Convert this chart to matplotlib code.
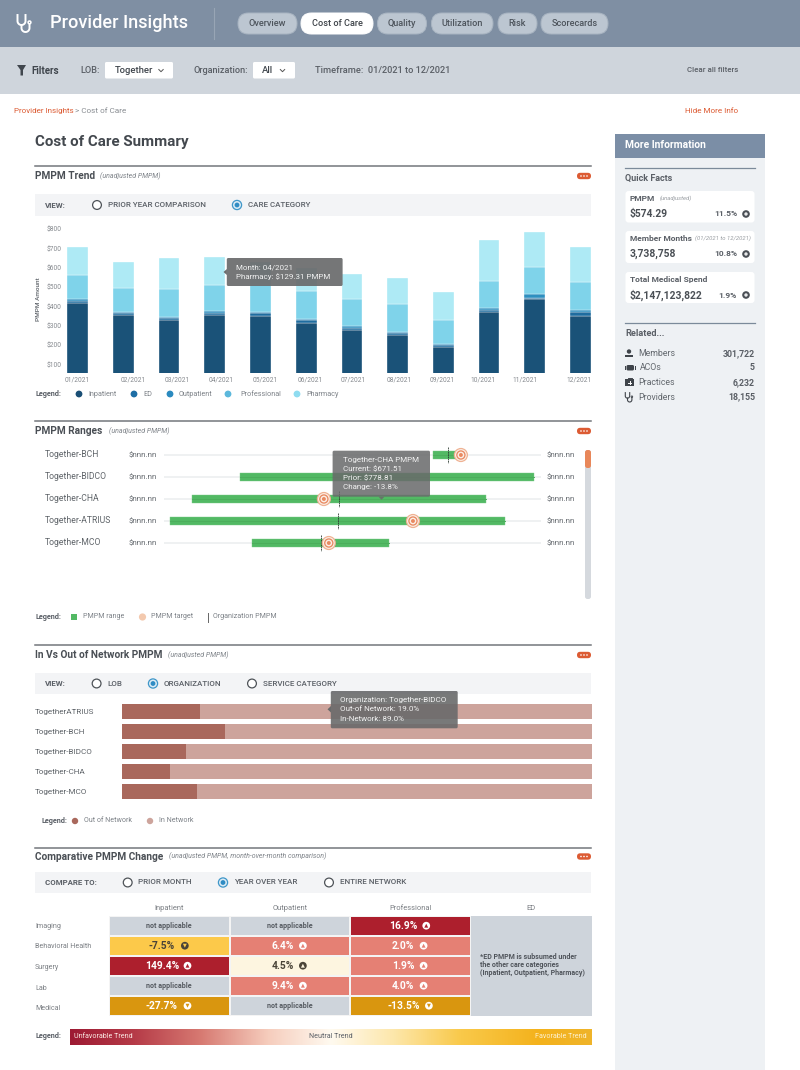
import numpy as np
import matplotlib.pyplot as plt
from matplotlib.patches import Circle, FancyBboxPatch, Rectangle, Polygon
from matplotlib.colors import LinearSegmentedColormap, ListedColormap

plt.rcParams['font.family'] = ['Roboto', 'DejaVu Sans']

W, H = 800, 1070
GRAY = '#5a5f66'
LIGHT = '#7d8288'
ORANGE = '#dc5b33'


def px_axes(x0, y0, x1, y1, z=1):
    # axes placed with picture pixels, y from the top
    ax = fig.add_axes([x0 / W, 1 - y1 / H, (x1 - x0) / W, (y1 - y0) / H], zorder=z)
    ax.patch.set_alpha(0)
    for s in ax.spines.values():
        s.set_visible(False)
    return ax


def txt(ax, x, y, s, size=6.5, color=GRAY, weight='normal', ha='left', style='normal', **kw):
    ax.text(x, y, s, fontsize=size, color=color, fontweight=weight, ha=ha, va='center', fontstyle=style, **kw)


def rbox(ax, x0, y0, x1, y1, r, color, ec='none', lw=0, alpha=1, z=2):
    ax.add_patch(FancyBboxPatch((x0 + r, y0 + r), x1 - x0 - 2 * r, y1 - y0 - 2 * r,
                                boxstyle=f'round,pad={r},rounding_size={r}', fc=color, ec=ec, lw=lw, alpha=alpha, zorder=z))


def radio(ax, x, y, selected=False):
    if selected:
        ax.add_patch(Circle((x, y), 4.6, fc='#dcebf5', ec='#3f97c9', lw=0.9, zorder=3))
        ax.add_patch(Circle((x, y), 2.4, fc='#2f8cc4', ec='none', zorder=4))
    else:
        ax.add_patch(Circle((x, y), 4.4, fc='white', ec='#4e5358', lw=0.9, zorder=3))


def section(ax, y, title, note, note_x, top_offset=10):
    ax.plot([35, 591], [y, y], color='#73777c', lw=1.1, zorder=2)
    txt(ax, 35, y + top_offset, title, size=7.25, weight='bold', color='#4a4f55')
    txt(ax, note_x, y + top_offset, note, size=5.05, style='italic', color=LIGHT)
    rbox(ax, 577, y + top_offset - 3.2, 591, y + top_offset + 3.2, 3.2, ORANGE)
    for dx in [-3, 0, 3]:
        ax.add_patch(Circle((584 + dx, y + top_offset), 0.8, fc='white', ec='none', zorder=3))


def view_bar(ax, y0, y1, label, options):
    ax.add_patch(Rectangle((35, y0), 556, y1 - y0, fc='#f3f4f6', ec='none', zorder=1))
    ym = (y0 + y1) / 2
    txt(ax, 45, ym, label, size=5.7, weight='bold')
    for rx, tx, name, sel in options:
        radio(ax, rx, ym, sel)
        txt(ax, tx, ym, name, size=5.8, weight='medium')


def tooltip(ax, x0, y0, x1, y1, lines, ys, tx, alpha=0.92):
    rbox(ax, x0, y0, x1, y1, 1.5, '#696a6b', alpha=alpha)
    for s, yy in zip(lines, ys):
        txt(ax, tx, yy, s, size=5.8, color='#f2f2f2', zorder=4)


def stethoscope(ax, x, y, k, color, lw):
    # arms and the U under them
    t = np.linspace(np.pi, 0, 30)
    ux = x + k * 4 * np.cos(t)
    uy = y - k * 1 + k * 4 * np.sin(t)
    ax.plot(np.r_[x - k * 4, ux, x + k * 4], np.r_[y - k * 7, uy, y - k * 7], color=color, lw=lw, zorder=4)
    # tube going round to the chest piece
    jx = x + k * 4 + k * 4 * np.cos(t)
    jy = y + k * 6 + k * 4 * np.sin(t)
    ax.plot(np.r_[x, jx, x + k * 8], np.r_[y + k * 3, jy, y + k * 2], color=color, lw=lw, zorder=4)
    ax.add_patch(Circle((x + k * 8, y + k * 0.4), k * 1.4, fc='none', ec=color, lw=lw * 0.8, zorder=4))


fig = plt.figure(figsize=(8, 10.7), dpi=100, facecolor='white')

ui = fig.add_axes([0, 0, 1, 1], zorder=0)
ui.set_xlim(0, W)
ui.set_ylim(H, 0)
ui.axis('off')

top = fig.add_axes([0, 0, 1, 1], zorder=5)
top.set_xlim(0, W)
top.set_ylim(H, 0)
top.axis('off')
top.patch.set_alpha(0)

# header
ui.add_patch(Rectangle((0, 0), W, 47, fc='#7f8fa3', ec='none'))
ui.add_patch(Rectangle((0, 47), W, 46.5, fc='#cfd5dc', ec='none'))
stethoscope(ui, 21.5, 22, 1.0, 'white', 1.4)
txt(ui, 49.5, 23.5, 'Provider Insights', size=13.1, color='white', weight='medium')
ui.plot([214, 214], [8, 39], color='#98a5b5', lw=0.8)

tabs = [('Overview', 238, 297), ('Cost of Care', 301, 373), ('Quality', 377.5, 426.5),
        ('Utilization', 431.5, 493), ('Risk', 498, 537), ('Scorecards', 541, 608)]
for name, a, b in tabs:
    active = name == 'Cost of Care'
    rbox(ui, a, 13, b, 34, 10.5, 'white' if active else '#bcc6d1', ec='white' if active else '#a9b5c2', lw=0.7)
    txt(ui, (a + b) / 2, 23.5, name, size=6.6, ha='center', weight='medium', color='#3f444a' if active else '#4d545c', zorder=3)

# filter row
ui.add_patch(Polygon([[17, 65], [26, 65], [23, 70], [23, 75.5], [20.5, 75.5], [20.5, 70]], fc='#40464d', ec='none'))
txt(ui, 31, 70.5, 'Filters', size=7, weight='bold', color='#40464d')
txt(ui, 80, 70.5, 'LOB:', size=6.6, weight='medium')
rbox(ui, 105, 62, 173, 78.5, 1.5, 'white')
txt(ui, 115, 70.5, 'Together', size=6.8, color='#40464d', weight='medium', zorder=3)
txt(ui, 193, 70.5, 'Organization:', size=6.6, weight='medium')
rbox(ui, 253, 62, 295, 78.5, 1.5, 'white')
txt(ui, 262, 70.5, 'All', size=6.8, color='#40464d', weight='medium', zorder=3)
for cx in [161, 282.5]:
    ui.plot([cx - 2.2, cx, cx + 2.2], [69.5, 71.7, 69.5], color='#555', lw=0.7, zorder=3)
txt(ui, 315, 70.5, 'Timeframe:  01/2021 to 12/2021', size=6.7, weight='medium')
txt(ui, 738, 70.5, 'Clear all filters', size=5.7, ha='right', weight='medium')

# breadcrumb
txt(ui, 13.5, 111, 'Provider Insights', size=5.8, color=ORANGE)
txt(ui, 75, 111, '> Cost of Care', size=5.9, color='#8a8e93')
txt(ui, 738, 111, 'Hide More Info', size=5.9, ha='right', color=ORANGE)
txt(ui, 35, 142, 'Cost of Care Summary', size=10.9, weight='bold', color='#43484e')

# right panel
ui.add_patch(Rectangle((615, 134), 150, H - 134, fc='#eef1f4', ec='none'))
ui.add_patch(Rectangle((615, 134), 150, 24, fc='#7b8ea6', ec='none'))
txt(ui, 625, 144.5, 'More Information', size=7.4, color='white', weight='bold')
ui.plot([625, 755], [168, 168], color='#7b8a9a', lw=0.9)
txt(ui, 625, 178, 'Quick Facts', size=6.5, weight='bold')
cards = [(191, 222.5, 'PMPM', '(unadjusted)', 660, '$574.29', '11.5%'),
         (231, 263, 'Member Months', '(01/2021 to 12/2021)', 695, '3,738,758', '10.8%'),
         (272, 303, 'Total Medical Spend', '', 0, '$2,147,123,822', '1.9%')]
for y0, y1, name, note, note_x, val, pct in cards:
    rbox(ui, 625.5, y0, 754.5, y1, 3, 'white')
    txt(ui, 630, y0 + 7.5, name, size=6, weight='bold', zorder=3)
    if note:
        txt(ui, note_x, y0 + 7.5, note, size=4.2, style='italic', color='#999da2', zorder=3)
    txt(ui, 630, y0 + 23, val, size=7.4, weight='bold', color='#4a4f55', zorder=3)
    txt(ui, 737, y0 + 23, pct, size=6, weight='bold', ha='right', zorder=3)
    ui.add_patch(Circle((746, y0 + 23), 3.8, fc='#4a4f55', ec='none', zorder=3))
    ui.add_patch(Circle((746, y0 + 23), 1.7, fc='#e8e9ea', ec='none', zorder=4))

ui.plot([625, 755], [323, 323], color='#7b8a9a', lw=0.9)
txt(ui, 625, 334, 'Related...', size=6.6, weight='bold')
related = [('Members', 638, '301,722', 353.3), ('ACOs', 640, '5', 367.7),
           ('Practices', 638.5, '6,232', 382.3), ('Providers', 638, '18,155', 397)]
for name, tx, val, y in related:
    txt(ui, tx, y, name, size=6.3, color='#62676d')
    txt(ui, 755, y, val, size=6.3, weight='bold', ha='right')
ui.add_patch(Circle((629, 351.5), 2.2, fc='#3f444a', ec='none'))
ui.add_patch(Rectangle((625, 354.5), 8.4, 2.8, fc='#3f444a', ec='none'))
rbox(ui, 626.5, 365, 634, 370.5, 1.5, '#3f444a')
ui.add_patch(Rectangle((624.5, 365.5), 1, 4.5, fc='#3f444a', ec='none'))
ui.add_patch(Rectangle((635, 365.5), 1, 4.5, fc='#3f444a', ec='none'))
ui.add_patch(Rectangle((625, 379), 9, 7, fc='#3f444a', ec='none'))
ui.plot([627.5, 627.5, 631.5, 631.5], [379, 377.5, 377.5, 379], color='#3f444a', lw=0.7)
ui.plot([629.5, 629.5], [381, 384], color='white', lw=0.7)
ui.plot([628, 631], [382.5, 382.5], color='white', lw=0.7)
stethoscope(ui, 627.5, 396.5, 0.55, '#3f444a', 0.8)

# ---- PMPM trend
section(ui, 166, 'PMPM Trend', '(unadjusted PMPM)', 100)
view_bar(ui, 194, 216, 'VIEW:', [(97, 107.7, 'PRIOR YEAR COMPARISON', False), (237, 248, 'CARE CATEGORY', True)])

months = ['01/2021', '02/2021', '03/2021', '04/2021', '05/2021', '06/2021',
          '07/2021', '08/2021', '09/2021', '10/2021', '11/2021', '12/2021']
inpatient = np.array([420, 358, 330, 358, 352, 316, 280, 254, 189, 373, 437, 352])
ed = np.array([10, 10, 10, 10, 13, 14, 11, 11, 10, 10, 7, 21])
outpatient = np.array([10, 5, 6, 9, 8, 4, 8, 5, 9, 11, 19, 9])
professional = np.array([124, 124, 144, 134, 137, 146, 138, 144, 124, 139, 141, 143])
pharmacy = np.array([143, 131, 159, 146, 120, 120, 132, 133, 143, 210, 182, 180])
trend_cols = ['#1a5278', '#1f6c9f', '#2e8fc0', '#7fd3ea', '#aeeaf5']

ax1 = px_axes(64, 222, 591, 372.7)
x = np.arange(12)
bottom = np.zeros(12)
for vals, col in zip([inpatient, ed, outpatient, professional, pharmacy], trend_cols):
    ax1.bar(x, vals, 0.453, bottom=bottom, color=col, edgecolor='white', linewidth=0.25)
    bottom = bottom + vals
ax1.set_xlim(-0.3, 11.232)
ax1.set_ylim(58.5, 836)
ax1.set_yticks(range(100, 900, 100))
ax1.set_yticklabels([f'${v}' for v in range(100, 900, 100)], fontsize=4.8, color='#85898e')
# the month labels do not sit right under the bars in the screenshot
month_label_x = [0, 1.206, 2.171, 3.136, 4.098, 5.081, 6.04, 7.026, 7.97, 8.88, 9.79, 10.98]
ax1.set_xticks(month_label_x)
ax1.set_xticklabels(months, fontsize=4.8, color='#85898e')
ax1.tick_params(length=0, pad=2.5)
ax1.tick_params(axis='y', pad=1.5)
txt(ui, 38.5, 299, 'PMPM Amount', size=4.6, weight='medium', rotation=90, ha='center')

txt(ui, 35, 394, 'Legend:', size=5.2, weight='bold')
leg1 = [(79, 88, 'Inpatient', '#1a4f75'), (134, 143, 'ED', '#1d6ea5'), (170, 179, 'Outpatient', '#2b8abf'),
        (228, 240, 'Professional', '#5cb8dc'), (297, 306, 'Pharmacy', '#8fdcf0')]
for dx, tx, name, col in leg1:
    ui.add_patch(Circle((dx, 394), 3.4, fc=col, ec='none'))
    txt(ui, tx, 394, name, size=5.2, color=LIGHT)

tooltip(top, 226.8, 258, 342.6, 286, ['Month: 04/2021', 'Pharmacy: $129.31 PMPM'], [267, 276.7], 236.5)
top.add_patch(Polygon([[226.9, 269], [223.5, 272], [226.9, 275]], fc='#696a6b', ec='none'))

# ---- PMPM ranges
section(ui, 421, 'PMPM Ranges', '(unadjusted PMPM)', 109)
ranges = {
    'Together-BCH': [71.3, 77.5, 78.8, 75.5],
    'Together-BIDCO': [20.4, 98.2, None, None],
    'Together-CHA': [7.6, 85.5, 42.5, 46.5],
    'Together-ATRIUS': [1.6, 90.6, 66.1, 46.3],
    'Together-MCO': [23.5, 59.7, 43.8, 41.8],
}
ax2 = px_axes(163.5, 444, 540.9, 554)
for i, (name, (lo, hi, target, org)) in enumerate(ranges.items()):
    ax2.plot([0, 100], [i, i], color='#eef0f1', lw=1.3, zorder=1)
    ax2.barh(i, hi - lo, 0.37, left=lo, color='#52b964', edgecolor='#7ccb88', linewidth=0.3, zorder=2)
    ax2.plot([lo, hi], [i, i], color='#4cae5c', lw=0.7, zorder=2)
    if org is not None:
        ax2.vlines(org, i - 0.36, i + 0.36, color='#2b3a30', lw=0.6, linestyles=(0, (2, 0.7)), zorder=3)
    if target is not None:
        # concentric target rings
        for s, col in [(105, '#efb293'), (72, '#fbeee6'), (46, '#e98a62'), (24, '#fbeee6'), (8, '#e98a62')]:
            ax2.scatter([target], [i], s=s, color=col, edgecolor='none', zorder=4)
    txt(ui, 45, 454.3 + 22 * i, name, size=6.2, color='#5f6469')
    txt(ui, 128.8, 455 + 22 * i, '$nnn.nn', size=5.8, color='#666b70')
    txt(ui, 547, 455 + 22 * i, '$nnn.nn', size=5.8, color='#666b70')
ax2.set_xlim(0, 100)
ax2.set_ylim(4.5, -0.5)
ax2.set_xticks([])
ax2.set_yticks([])

rbox(ui, 585, 450, 591, 599, 2.5, '#d5d9de')
rbox(ui, 585, 450, 591, 468, 2.5, '#e8875a', z=3)

txt(ui, 35, 617, 'Legend:', size=5.2, weight='bold')
ui.add_patch(Rectangle((71, 614), 6, 6, fc='#52b964', ec='none'))
txt(ui, 83, 617, 'PMPM range', size=5.1, color=LIGHT)
ui.add_patch(Circle((142.5, 617), 3.6, fc='#f3c9ae', ec='none'))
txt(ui, 150.6, 617, 'PMPM target', size=5.1, color=LIGHT)
ui.plot([208, 208], [612.5, 621.5], color='#666', lw=0.7)
txt(ui, 213, 617, 'Organization PMPM', size=5.1, color=LIGHT)

tooltip(top, 332.6, 450.7, 430, 496.7, ['Together-CHA PMPM', 'Current: $671.51', 'Prior: $778.81', 'Change: -13.8%'],
        [460, 469, 478, 487.3], 342.6, alpha=0.86)
top.add_patch(Polygon([[378.5, 496.7], [384.5, 496.7], [381.5, 499.8]], fc='#696a6b', alpha=0.86, ec='none'))

# ---- in vs out of network
section(ui, 645, 'In Vs Out of Network PMPM', '(unadjusted PMPM)', 168)
view_bar(ui, 673, 694, 'VIEW:', [(96.6, 107.7, 'LOB', False), (153, 163.5, 'ORGANIZATION', True), (252, 263, 'SERVICE CATEGORY', False)])

orgs = ['TogetherATRIUS', 'Together-BCH', 'Together-BIDCO', 'Together-CHA', 'Together-MCO']
out_net = np.array([16.7, 22.0, 13.7, 10.2, 16.1])
in_net = 100 - out_net
ax3 = px_axes(121.7, 701.3, 591.6, 801.3)
ax3.barh(range(5), out_net, 0.74, color='#a9685c')
ax3.barh(range(5), in_net, 0.74, left=out_net, color='#cda49c')
ax3.set_xlim(0, 100)
ax3.set_ylim(4.5, -0.5)
ax3.set_xticks([])
ax3.set_yticks(range(5))
ax3.set_yticklabels(orgs, fontsize=5.9, color='#5f6469', ha='left')
ax3.tick_params(axis='y', length=0, pad=62.4)

txt(ui, 41, 821, 'Legend:', size=5.2, weight='bold')
ui.add_patch(Circle((75, 821), 3.2, fc='#a9685c', ec='none'))
txt(ui, 83.6, 821, 'Out of Network', size=5.1, color=LIGHT)
ui.add_patch(Circle((150, 821), 3.2, fc='#cda49c', ec='none'))
txt(ui, 158.7, 821, 'In Network', size=5.1, color=LIGHT)

tooltip(top, 330.8, 691, 457.7, 728.3, ['Organization: Together-BIDCO', 'Out-of Network: 19.0%', 'In-Network: 89.0%'],
        [700.3, 709.3, 718.7], 340.4, alpha=0.9)
top.add_patch(Polygon([[331, 706], [327.5, 709.3], [331, 712.5]], fc='#696a6b', ec='none'))

# ---- comparative change
section(ui, 848, 'Comparative PMPM Change', '(unadjusted PMPM, month-over-month comparison)', 168.7, top_offset=8.5)
view_bar(ui, 871.7, 893.3, 'COMPARE TO:', [(127.7, 138.4, 'PRIOR MONTH', False), (223, 233.8, 'YEAR OVER YEAR', True), (329, 340, 'ENTIRE NETWORK', False)])

rows = ['Imaging', 'Behavioral Health', 'Surgery', 'Lab', 'Medical']
cols = ['Inpatient', 'Outpatient', 'Professional', 'ED']
change = [[None, None, 16.9],
          [-7.5, 6.4, 2.0],
          [149.4, 4.5, 1.9],
          [None, 9.4, 4.0],
          [-27.7, None, -13.5]]
# colour class of each cell: 0 n/a, 1 dark red, 2 salmon, 3 cream, 4 yellow, 5 gold
classes = np.array([[0, 0, 1],
                    [4, 2, 2],
                    [1, 3, 2],
                    [0, 2, 2],
                    [5, 0, 5]])
cmap = ListedColormap(['#ced4db', '#ad1f2d', '#e58074', '#fdf5e0', '#fcc94a', '#d9960f'])

ax4 = px_axes(108.8, 915.7, 591.6, 1015.7)
ax4.pcolormesh(np.arange(4), np.arange(6), classes, cmap=cmap, vmin=-0.5, vmax=5.5, edgecolors='#f4f4f4', linewidth=0.35)
ax4.bar(3.5, 5, 1, color='#ced4db', edgecolor='none', align='center')
ax4.set_xlim(0, 4)
ax4.set_ylim(5, 0)
ax4.set_xticks(np.arange(4) + 0.5)
ax4.set_xticklabels(cols, fontsize=5.4, color='#7a7e83')
ax4.xaxis.tick_top()
row_label_y = [0.5, 1.515, 2.55, 3.58, 4.6]
ax4.set_yticks(row_label_y)
ax4.set_yticklabels(rows, fontsize=5.1, color='#7a7e83', ha='left')
ax4.tick_params(axis='y', length=0, pad=53.2)
ax4.tick_params(axis='x', length=0, pad=2.5)

for r in range(5):
    for c in range(3):
        v = change[r][c]
        if v is None:
            ax4.text(c + 0.5, r + 0.5, 'not applicable', fontsize=5.1, fontweight='bold', color='#555a60', ha='center', va='center')
            continue
        fg = '#4a4438' if classes[r, c] in (3, 4) else 'white'
        bg = cmap(classes[r, c])
        label = f'{v}%'
        icon_x = c + 0.52 + 0.022 * len(label)
        ax4.text(c + 0.44, r + 0.5, label, fontsize=7.4, fontweight='bold', color=fg, ha='center', va='center')
        ax4.scatter([icon_x], [r + 0.5], s=31, color=fg, edgecolor='none', zorder=3)
        ax4.scatter([icon_x], [r + 0.5], s=8, color=[bg], marker='^' if v > 0 else 'v', edgecolor='none', zorder=4)

ed_note = ['*ED PMPM is subsumed under', 'the other care categories', '(Inpatient, Outpatient, Pharmacy)']
for yy, s in zip([957, 965, 973], ed_note):
    txt(top, 480, yy, s, size=5, weight='bold', color='#4f545a')

txt(ui, 35, 1036.5, 'Legend:', size=5.2, weight='bold')
grad = LinearSegmentedColormap.from_list('trend', [(0, '#9d1a33'), (0.12, '#b53a47'), (0.25, '#d77a72'), (0.38, '#f6cdbd'),
                                                   (0.5, '#fffaf0'), (0.62, '#fde7ab'), (0.75, '#f9c94a'), (0.9, '#f4b21c'), (1, '#efb42a')])
ax5 = px_axes(70.3, 1028.5, 591.6, 1045)
ax5.imshow(np.linspace(0, 1, 256).reshape(1, -1), cmap=grad, aspect='auto')
ax5.set_xticks([])
ax5.set_yticks([])
txt(top, 74.4, 1036.7, 'Unfavorable Trend', size=5.1, color='#fbe9e4')
txt(top, 330.8, 1036.7, 'Neutral Trend', size=5.1, ha='center', color='#5a5f66')
txt(top, 586.8, 1036.7, 'Favorable Trend', size=5.1, ha='right', color='#fdf1cf')

plt.savefig('out.png', dpi=100)
